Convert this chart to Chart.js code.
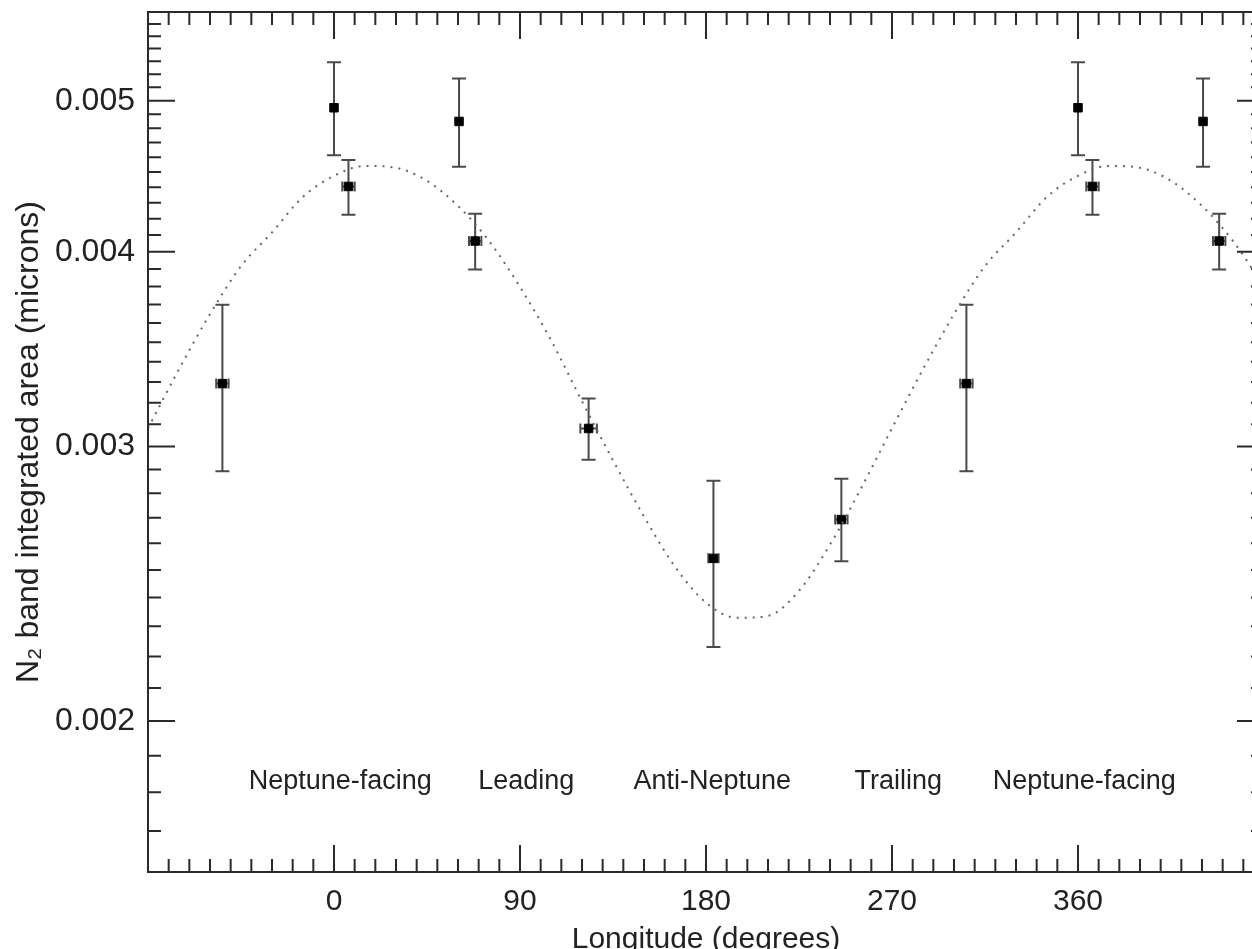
<!DOCTYPE html>
<html>
<head>
<meta charset="utf-8">
<script src="https://cdn.jsdelivr.net/npm/chart.js@4.4.0/dist/chart.umd.min.js"></script>
<style>
  html, body { margin: 0; padding: 0; background: #fff; overflow: hidden; }
  #wrap { width: 1252px; height: 949px; overflow: hidden; }
</style>
</head>
<body>
<div id="wrap"><canvas id="myChart" width="1272" height="960" style="width:1272px;height:960px"></canvas></div>
<script>
// measured points, longitude in degrees (the set repeats every 360)
var longitude = [-54, 0, 7, 60.5, 68.3, 123.2, 183.6, 245.5, 306, 360, 367, 420.5, 428.3]
var area = [0.003292, 0.004948, 0.004405, 0.004849, 0.004064, 0.003081, 0.002543, 0.002693, 0.003292, 0.004948, 0.004405, 0.004849, 0.004064]
var areaLow = [0.002892, 0.004613, 0.004224, 0.004535, 0.003896, 0.002942, 0.002231, 0.002532, 0.002892, 0.004613, 0.004224, 0.004535, 0.003896]
var areaHigh = [0.003699, 0.005292, 0.004580, 0.005166, 0.004231, 0.003220, 0.002852, 0.002860, 0.003699, 0.005292, 0.004580, 0.005166, 0.004231]
var lonErr = [3, 0, 3, 0, 3, 4, 2.5, 3, 3, 0, 3, 0, 3]

// dotted fit curve, every 15 degrees
var fitLon = [-90, -75, -60, -45, -30, -15, 0, 15, 30, 45, 60, 75, 90, 105, 120, 135, 150, 165, 180, 195, 210, 225, 240, 255, 270, 285, 300, 315, 330, 345, 360, 375, 390, 405, 420, 435, 450]
var fitArea = [0.003082, 0.003363, 0.003648, 0.003916, 0.004116, 0.004338, 0.004475, 0.004541, 0.004528, 0.004442, 0.004280, 0.004064, 0.003797, 0.003510, 0.003207, 0.002939, 0.002705, 0.002512, 0.002382, 0.002329, 0.002336, 0.002424, 0.002595, 0.002820, 0.003082, 0.003363, 0.003648, 0.003916, 0.004116, 0.004338, 0.004475, 0.004541, 0.004528, 0.004442, 0.004280, 0.004064, 0.003797]

var xMajorTicks = [0, 90, 180, 270, 360]
var yMajorTicks = [0.002, 0.003, 0.004, 0.005]
var regionNames = ['Neptune-facing', 'Leading', 'Anti-Neptune', 'Trailing', 'Neptune-facing']
var regionLon = [3, 93, 183, 273, 363]
var regionArea = 0.00183

var yTicks = []
for (let i = 16; i <= 57; i++) yTicks.push(i / 10000)

var points = []
for (let i in longitude) points.push({ x: longitude[i], y: area[i] })
var fit = []
for (let i in fitLon) fit.push({ x: fitLon[i], y: fitArea[i] })

function isMajorY(v) {
  return yMajorTicks.some(function (m) { return Math.abs(m - v) < 1e-9 })
}

var frame = {
  id: 'frame',
  beforeDatasetsDraw(chart) {
    var ctx = chart.ctx, x = chart.scales.x, y = chart.scales.y
    ctx.save()
    ctx.strokeStyle = '#4a4a4a'
    ctx.lineWidth = 2
    for (let i in longitude) {
      var px = x.getPixelForValue(longitude[i])
      var top = y.getPixelForValue(areaHigh[i])
      var bot = y.getPixelForValue(areaLow[i])
      var py = y.getPixelForValue(area[i])
      ctx.beginPath()
      ctx.moveTo(px, top); ctx.lineTo(px, bot)
      ctx.moveTo(px - 7, top); ctx.lineTo(px + 7, top)
      ctx.moveTo(px - 7, bot); ctx.lineTo(px + 7, bot)
      if (lonErr[i] > 0) {
        var l = x.getPixelForValue(longitude[i] - lonErr[i])
        var r = x.getPixelForValue(longitude[i] + lonErr[i])
        ctx.moveTo(l, py); ctx.lineTo(r, py)
        ctx.moveTo(l, py - 5); ctx.lineTo(l, py + 5)
        ctx.moveTo(r, py - 5); ctx.lineTo(r, py + 5)
      }
      ctx.stroke()
    }
    ctx.restore()
  },
  afterDraw(chart) {
    var ctx = chart.ctx, a = chart.chartArea, x = chart.scales.x, y = chart.scales.y
    ctx.save()
    ctx.strokeStyle = '#2a2a2a'
    ctx.lineWidth = 2
    ctx.strokeRect(a.left, a.top, a.right - a.left, a.bottom - a.top)
    ctx.beginPath()
    x.ticks.forEach(function (t) {
      var px = x.getPixelForValue(t.value)
      var len = xMajorTicks.indexOf(t.value) >= 0 ? 27 : 13
      ctx.moveTo(px, a.bottom); ctx.lineTo(px, a.bottom - len)
      ctx.moveTo(px, a.top); ctx.lineTo(px, a.top + len)
    })
    y.ticks.forEach(function (t) {
      var py = y.getPixelForValue(t.value)
      var len = isMajorY(t.value) ? 27 : 13
      ctx.moveTo(a.left, py); ctx.lineTo(a.left + len, py)
      ctx.moveTo(a.right, py); ctx.lineTo(a.right - len, py)
    })
    ctx.stroke()
    ctx.fillStyle = '#222'
    ctx.font = '27px "Liberation Sans", Arial, sans-serif'
    ctx.textAlign = 'center'
    ctx.textBaseline = 'middle'
    var ly = y.getPixelForValue(regionArea)
    for (let i in regionNames) {
      ctx.fillText(regionNames[i], x.getPixelForValue(regionLon[i]), ly)
    }
    ctx.restore()
  }
}

const myChart = new Chart('myChart', {
  type: 'line',
  data: {
    datasets: [
      {
        data: fit,
        borderColor: '#666',
        borderWidth: 2,
        borderDash: [2, 6],
        pointRadius: 0,
        cubicInterpolationMode: 'monotone',
        fill: false
      },
      {
        data: points,
        showLine: false,
        pointStyle: 'rect',
        pointRadius: 6,
        backgroundColor: '#000',
        borderColor: '#000',
        borderWidth: 1
      }
    ]
  },
  options: {
    responsive: false,
    animation: false,
    devicePixelRatio: 1,
    layout: { padding: { left: 0, top: 12, right: 8, bottom: 0 } },
    plugins: { legend: { display: false }, tooltip: { enabled: false } },
    scales: {
      x: {
        type: 'linear',
        min: -90,
        max: 450,
        grid: { display: false, drawTicks: false },
        border: { display: false },
        afterFit: function (s) { s.height = 88; s.paddingLeft = 0; s.paddingRight = 0 },
        ticks: {
          stepSize: 10,
          autoSkip: false,
          maxRotation: 0,
          padding: 12,
          color: '#222',
          font: { family: 'Liberation Sans', size: 30 },
          callback: function (v) { return xMajorTicks.indexOf(v) >= 0 ? String(v) : '' }
        },
        title: {
          display: true,
          text: 'Longitude (degrees)',
          color: '#222',
          font: { family: 'Liberation Sans', size: 30 },
          padding: { top: 0, bottom: 2 }
        }
      },
      y: {
        type: 'logarithmic',
        min: 0.0016,
        max: 0.0057,
        grid: { display: false, drawTicks: false },
        border: { display: false },
        afterFit: function (s) { s.width = 148; s.paddingTop = 0; s.paddingBottom = 0 },
        afterBuildTicks: function (s) { s.ticks = yTicks.map(function (v) { return { value: v } }) },
        ticks: {
          autoSkip: false,
          padding: 13,
          color: '#222',
          font: { family: 'Liberation Sans', size: 32 },
          callback: function (v) { return isMajorY(v) ? v.toFixed(3) : '' }
        },
        title: {
          display: true,
          text: 'N\u2082 band integrated area (microns)',
          color: '#222',
          font: { family: 'Liberation Sans', size: 32 },
          padding: { top: 10, bottom: 0 }
        }
      }
    }
  },
  plugins: [frame]
})
</script>
</body>
</html>
